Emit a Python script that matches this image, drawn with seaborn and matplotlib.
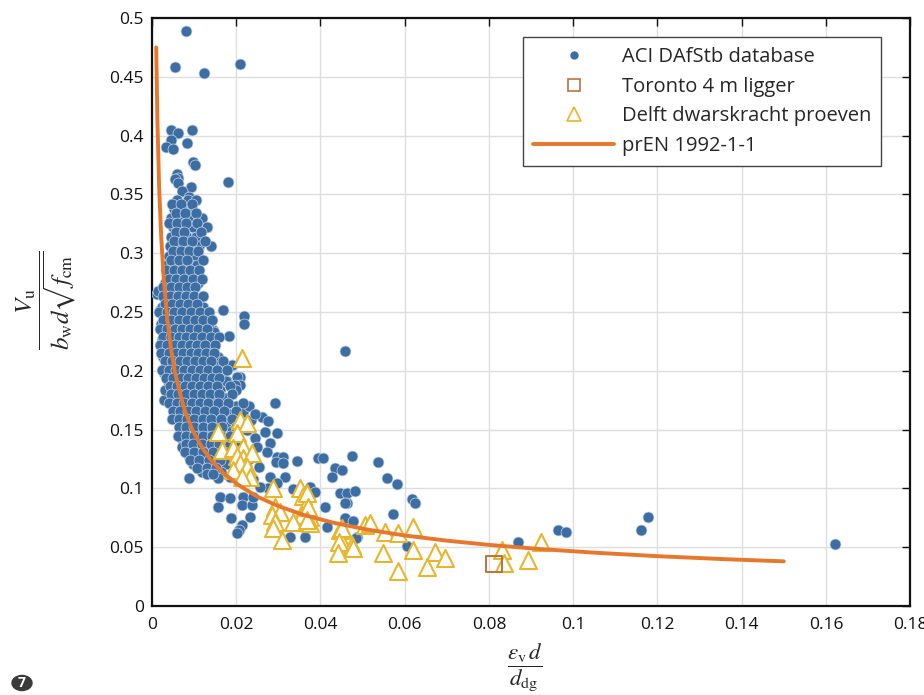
import numpy as np
import pandas as pd
import matplotlib
matplotlib.use("Agg")
import matplotlib.pyplot as plt
from matplotlib.lines import Line2D
from matplotlib.ticker import FuncFormatter, MultipleLocator
import seaborn as sns

# ---------------- data ----------------
# ACI DAfStb database: sparse / outlying points
aci_sparse_x = [0.0081, 0.0055, 0.0124, 0.0209, 0.0045, 0.0062, 0.0095, 0.0045, 0.0033, 0.0050, 0.0083,
                0.0097, 0.0102, 0.0059, 0.0062, 0.0055, 0.0062, 0.0180, 0.0093, 0.0071, 0.0088, 0.0069, 0.0093,
                0.0019, 0.0169, 0.0219, 0.0219, 0.0183, 0.0145, 0.0121, 0.0157, 0.0190, 0.0166, 0.0209, 0.0202,
                0.0178, 0.0162, 0.0209, 0.0197, 0.0292, 0.0261, 0.0275, 0.0268, 0.0297, 0.0280, 0.0273, 0.0297,
                0.0310, 0.0294, 0.0310, 0.0344, 0.0394, 0.0406, 0.0475, 0.0435, 0.0451, 0.0428, 0.0316, 0.0280,
                0.0297, 0.0275, 0.0257, 0.0162, 0.0157, 0.0185, 0.0216, 0.0214, 0.0238, 0.0240, 0.0335, 0.0375,
                0.0387, 0.0446, 0.0463, 0.0482, 0.0463, 0.0410, 0.0188, 0.0233, 0.0214, 0.0207, 0.0202, 0.0328,
                0.0363, 0.0416, 0.0458, 0.0487, 0.0458, 0.0537, 0.0558, 0.0582, 0.0458, 0.0617, 0.0625, 0.0572,
                0.0477, 0.0484, 0.0606, 0.0869, 0.0964, 0.0983, 0.1161, 0.1178, 0.1622,
                0.0215, 0.0235, 0.0225, 0.0245, 0.0200, 0.0215, 0.0250, 0.0195, 0.0230, 0.0255, 0.0215, 0.0185,
                0.0240, 0.0029, 0.0012]
aci_sparse_y = [0.489, 0.458, 0.453, 0.461, 0.405, 0.402, 0.405, 0.396, 0.390, 0.389, 0.394,
                0.378, 0.375, 0.367, 0.364, 0.363, 0.360, 0.361, 0.356, 0.353, 0.348, 0.337, 0.337,
                0.252, 0.252, 0.2465, 0.240, 0.2295, 0.235, 0.245, 0.212, 0.205, 0.2015, 0.195, 0.195,
                0.191, 0.179, 0.188, 0.188, 0.1725, 0.161, 0.157, 0.148, 0.147, 0.139, 0.131, 0.127,
                0.127, 0.1225, 0.1215, 0.123, 0.126, 0.126, 0.1275, 0.117, 0.116, 0.110, 0.110, 0.110,
                0.1045, 0.100, 0.101, 0.0927, 0.084, 0.092, 0.0927, 0.086, 0.086, 0.0927, 0.0995, 0.101,
                0.097, 0.096, 0.096, 0.0978, 0.088, 0.084, 0.075, 0.0757, 0.069, 0.0646, 0.062, 0.0587,
                0.0587, 0.067, 0.075, 0.0587, 0.2168, 0.1224, 0.1088, 0.1037, 0.0875, 0.091, 0.0875, 0.078,
                0.0722, 0.0578, 0.051, 0.0544, 0.0646, 0.063, 0.0646, 0.0757, 0.0527,
                0.165, 0.158, 0.150, 0.143, 0.140, 0.133, 0.135, 0.125, 0.125, 0.118, 0.116, 0.110,
                0.108, 0.175, 0.265]

# ACI DAfStb database: dense cluster, row by row (y level -> x positions)
aci_rows_y = [0.345, 0.338, 0.330, 0.322, 0.314, 0.306, 0.298, 0.290, 0.282, 0.275, 0.268, 0.261,
              0.254, 0.247, 0.240, 0.233, 0.226, 0.219, 0.212, 0.205, 0.198, 0.191, 0.184, 0.177,
              0.170, 0.163, 0.156, 0.149, 0.142, 0.135, 0.128, 0.121, 0.114, 0.109,
              0.342, 0.334, 0.326, 0.318, 0.310, 0.302, 0.294, 0.286, 0.278, 0.271, 0.264, 0.257,
              0.250, 0.243, 0.236, 0.229, 0.222, 0.215, 0.208, 0.201, 0.194, 0.187, 0.180, 0.173,
              0.166, 0.159, 0.152, 0.145, 0.138, 0.131, 0.124, 0.117, 0.112]
aci_rows_x = [
    [0.0060, 0.0085, 0.0105],
    [0.0052, 0.0072, 0.0095],
    [0.0046, 0.0066, 0.0086, 0.0118],
    [0.0050, 0.0071, 0.0097, 0.0130],
    [0.0044, 0.0062, 0.0083, 0.0105],
    [0.0043, 0.0069, 0.0090, 0.0112, 0.0140],
    [0.0040, 0.0058, 0.0078, 0.0100],
    [0.0036, 0.0055, 0.0073, 0.0092, 0.0106],
    [0.0042, 0.0062, 0.0082, 0.0101],
    [0.0030, 0.0050, 0.0068, 0.0088, 0.0110],
    [0.0014, 0.0040, 0.0058, 0.0077, 0.0096],
    [0.0035, 0.0052, 0.0070, 0.0090, 0.0112],
    [0.0024, 0.0044, 0.0062, 0.0081, 0.0100, 0.0121],
    [0.0030, 0.0050, 0.0069, 0.0089, 0.0108, 0.0128],
    [0.0022, 0.0040, 0.0058, 0.0077, 0.0096, 0.0115, 0.0135],
    [0.0030, 0.0048, 0.0067, 0.0086, 0.0105, 0.0124, 0.0147],
    [0.0024, 0.0040, 0.0058, 0.0076, 0.0094, 0.0113, 0.0132],
    [0.0032, 0.0050, 0.0068, 0.0086, 0.0104, 0.0122, 0.0142],
    [0.0026, 0.0043, 0.0060, 0.0078, 0.0096, 0.0115, 0.0135, 0.0157],
    [0.0035, 0.0052, 0.0070, 0.0088, 0.0107, 0.0126, 0.0148, 0.0190],
    [0.0028, 0.0045, 0.0063, 0.0081, 0.0099, 0.0118, 0.0138, 0.0166],
    [0.0038, 0.0056, 0.0074, 0.0092, 0.0110, 0.0130, 0.0150, 0.0175],
    [0.0032, 0.0049, 0.0067, 0.0085, 0.0103, 0.0122, 0.0142, 0.0162, 0.0200],
    [0.0058, 0.0076, 0.0094, 0.0113, 0.0133, 0.0153, 0.0175],
    [0.0050, 0.0068, 0.0086, 0.0105, 0.0124, 0.0145, 0.0168, 0.0200, 0.0230],
    [0.0058, 0.0077, 0.0096, 0.0115, 0.0136, 0.0158, 0.0185, 0.0245],
    [0.0068, 0.0087, 0.0106, 0.0127, 0.0149, 0.0175],
    [0.0075, 0.0096, 0.0117, 0.0139, 0.0162, 0.0190],
    [0.0071, 0.0087, 0.0108, 0.0130, 0.0152, 0.0177],
    [0.0071, 0.0098, 0.0120, 0.0143, 0.0168],
    [0.0088, 0.0110, 0.0133, 0.0158],
    [0.0097, 0.0123, 0.0148, 0.0175],
    [0.0119, 0.0140, 0.0165],
    [0.0088, 0.0157],
    [0.0048, 0.0070, 0.0096],
    [0.0058, 0.0079, 0.0104],
    [0.0040, 0.0060, 0.0080, 0.0108],
    [0.0057, 0.0077, 0.0117],
    [0.0053, 0.0073, 0.0096, 0.0125],
    [0.0049, 0.0068, 0.0088, 0.0110],
    [0.0046, 0.0064, 0.0083, 0.0120],
    [0.0033, 0.0052, 0.0071, 0.0091, 0.0112],
    [0.0040, 0.0058, 0.0077, 0.0097, 0.0118],
    [0.0027, 0.0045, 0.0063, 0.0083, 0.0103],
    [0.0025, 0.0043, 0.0061, 0.0080, 0.0100, 0.0120],
    [0.0030, 0.0048, 0.0066, 0.0085, 0.0106],
    [0.0017, 0.0035, 0.0053, 0.0072, 0.0092, 0.0113, 0.0135],
    [0.0026, 0.0044, 0.0063, 0.0082, 0.0101, 0.0121, 0.0142],
    [0.0018, 0.0036, 0.0054, 0.0072, 0.0091, 0.0110, 0.0130],
    [0.0027, 0.0045, 0.0063, 0.0081, 0.0100, 0.0119, 0.0140, 0.0160],
    [0.0019, 0.0036, 0.0054, 0.0072, 0.0090, 0.0108, 0.0127, 0.0150],
    [0.0022, 0.0040, 0.0057, 0.0074, 0.0092, 0.0110, 0.0128, 0.0147],
    [0.0030, 0.0048, 0.0066, 0.0084, 0.0102, 0.0121, 0.0141, 0.0168],
    [0.0024, 0.0040, 0.0058, 0.0076, 0.0094, 0.0113, 0.0132, 0.0154, 0.0178],
    [0.0033, 0.0050, 0.0068, 0.0086, 0.0104, 0.0123, 0.0143, 0.0160],
    [0.0042, 0.0060, 0.0078, 0.0096, 0.0115, 0.0134, 0.0155, 0.0185],
    [0.0045, 0.0062, 0.0080, 0.0099, 0.0118, 0.0138, 0.0160, 0.0190],
    [0.0040, 0.0059, 0.0077, 0.0095, 0.0114, 0.0134, 0.0156, 0.0180, 0.0215],
    [0.0050, 0.0067, 0.0086, 0.0105, 0.0125, 0.0147, 0.0170, 0.0200],
    [0.0048, 0.0064, 0.0082, 0.0100, 0.0120, 0.0141, 0.0163, 0.0190],
    [0.0064, 0.0081, 0.0100, 0.0121, 0.0143, 0.0167, 0.0200],
    [0.0062, 0.0080, 0.0100, 0.0120, 0.0142, 0.0165, 0.0185],
    [0.0080, 0.0098, 0.0118, 0.0140, 0.0160, 0.0185],
    [0.0078, 0.0100, 0.0121, 0.0145, 0.0170],
    [0.0090, 0.0112, 0.0136, 0.0162],
    [0.0108, 0.0130, 0.0152],
    [0.0130, 0.0145],
]

# Toronto 4 m ligger
toronto_x = [0.0812]
toronto_y = [0.0357]

# Delft dwarskracht proeven
delft_x = [0.0157, 0.0209, 0.0226, 0.0202, 0.0166, 0.0192, 0.0216, 0.0202, 0.0216, 0.0238, 0.0209,
           0.0226, 0.0192, 0.0233, 0.0214, 0.0214, 0.0287, 0.0351, 0.0359, 0.0292, 0.0304, 0.0285,
           0.0363, 0.0356, 0.0375, 0.0292, 0.0335, 0.0287, 0.0375, 0.0309, 0.0446, 0.0451, 0.0475,
           0.0368, 0.0370, 0.0368, 0.0451, 0.0506, 0.0518, 0.0444, 0.0477, 0.0442, 0.0553, 0.0584,
           0.0620, 0.0549, 0.0620, 0.0672, 0.0696, 0.0653, 0.0584, 0.0831, 0.0836, 0.0893, 0.0924]
delft_y = [0.148, 0.158, 0.156, 0.147, 0.1326, 0.134, 0.135, 0.128, 0.126, 0.130, 0.1215,
           0.118, 0.1156, 0.1097, 0.1097, 0.211, 0.1003, 0.1003, 0.094, 0.084, 0.080, 0.077,
           0.084, 0.077, 0.0757, 0.0714, 0.0714, 0.066, 0.0706, 0.056, 0.0646, 0.0544, 0.0519,
           0.096, 0.0840, 0.073, 0.0663, 0.0689, 0.0706, 0.0544, 0.049, 0.045, 0.0629, 0.062,
           0.067, 0.045, 0.0476, 0.0459, 0.0408, 0.0332, 0.0298, 0.0476, 0.0365, 0.039, 0.0544]

# prEN 1992-1-1 curve
pren_x = [0.0010, 0.0013, 0.0017, 0.0022, 0.0028, 0.0036, 0.0045, 0.0055, 0.0067, 0.0080, 0.0097,
          0.0117, 0.0140, 0.0170, 0.0205, 0.0250, 0.0300, 0.0360, 0.0430, 0.0510, 0.0600, 0.0700,
          0.0800, 0.0920, 0.1050, 0.1200, 0.1350, 0.1500]
pren_y = [0.475, 0.410, 0.356, 0.313, 0.278, 0.245, 0.219, 0.198, 0.180, 0.164, 0.149,
          0.136, 0.124, 0.113, 0.103, 0.093, 0.085, 0.0775, 0.0709, 0.0651, 0.0600, 0.0556,
          0.0520, 0.0485, 0.0454, 0.0424, 0.0400, 0.0380]

legend_labels = ["ACI DAfStb database", "Toronto 4 m ligger", "Delft dwarskracht proeven", "prEN 1992-1-1"]

# ---------------- build tables ----------------
dense_x, dense_y = [], []
for yy, xs in zip(aci_rows_y, aci_rows_x):
    for xx in xs:
        dense_x.append(xx)
        dense_y.append(yy)
aci = pd.DataFrame({"x": aci_sparse_x + dense_x, "y": aci_sparse_y + dense_y})
delft = pd.DataFrame({"x": delft_x, "y": delft_y})
toronto = pd.DataFrame({"x": toronto_x, "y": toronto_y})
pren = pd.DataFrame({"x": pren_x, "y": pren_y})

# ---------------- style ----------------
sns.set_style("whitegrid")
plt.rcParams["font.family"] = ["Open Sans", "DejaVu Sans"]
plt.rcParams["mathtext.fontset"] = "stix"

BLUE = "#3c6ea3"
GOLD = "#e8b62c"
BROWN = "#c0703c"
ORANGE = "#e6772c"

fig = plt.figure(figsize=(9.24, 6.95), dpi=100)
ax = fig.add_axes([0.1645, 0.128, 0.8205, 0.846])

sns.scatterplot(data=aci, x="x", y="y", ax=ax, s=62, color=BLUE, edgecolor="#c9d6e6",
                linewidth=0.5, zorder=3, legend=False)
sns.scatterplot(data=delft, x="x", y="y", ax=ax, s=150, marker="^", facecolor="white",
                edgecolor=GOLD, linewidth=1.5, zorder=4, legend=False)
sns.scatterplot(data=toronto, x="x", y="y", ax=ax, s=140, marker="s", facecolor="none",
                edgecolor=BROWN, linewidth=1.4, zorder=5, legend=False)
sns.lineplot(data=pren, x="x", y="y", ax=ax, color=ORANGE, linewidth=2.8, sort=False,
             estimator=None, zorder=6, legend=False)

ax.set_xlim(0, 0.18)
ax.set_ylim(0, 0.5)
ax.xaxis.set_major_locator(MultipleLocator(0.02))
ax.yaxis.set_major_locator(MultipleLocator(0.05))
fmt = FuncFormatter(lambda v, p: "%g" % round(v, 4))
ax.xaxis.set_major_formatter(fmt)
ax.yaxis.set_major_formatter(fmt)
ax.grid(True, color="#dedede", linewidth=1.0)
ax.set_axisbelow(True)
for sp in ax.spines.values():
    sp.set_visible(True)
    sp.set_color("#111111")
    sp.set_linewidth(1.6)
ax.tick_params(direction="in", length=6, width=1.0, top=True, right=True,
               labelsize=12.5, colors="#111111", pad=6)
ax.tick_params(axis="x", pad=8)

ax.set_xlabel(r"$\dfrac{\varepsilon_\mathrm{v}\, d}{d_\mathrm{dg}}$", fontsize=16.5)
ax.set_ylabel(r"$\dfrac{V_\mathrm{u}}{b_\mathrm{w} d\sqrt{f_\mathrm{cm}}}$", fontsize=18)
ax.xaxis.set_label_coords(0.492, -0.060)
ax.yaxis.set_label_coords(-0.098, 0.52)

handles = [
    Line2D([], [], marker="o", linestyle="none", markersize=5, color=BLUE, markeredgecolor=BLUE),
    Line2D([], [], marker="s", linestyle="none", markersize=9, markerfacecolor="none",
           markeredgecolor=BROWN, markeredgewidth=1.2),
    Line2D([], [], marker="^", linestyle="none", markersize=10, markerfacecolor="none",
           markeredgecolor=GOLD, markeredgewidth=1.2),
    Line2D([], [], color=ORANGE, linewidth=2.8),
]
leg = ax.legend(handles, legend_labels, loc="upper right", bbox_to_anchor=(0.962, 0.968),
                fontsize=14.5, frameon=True, fancybox=False, framealpha=1, edgecolor="#444444",
                handlelength=4.0, handletextpad=0.4, borderpad=0.5, labelspacing=0.48,
                borderaxespad=0)
leg.get_frame().set_linewidth(1.0)

# page badge
fig.patches.append(matplotlib.patches.Circle((22 / 924, 1 - 683 / 695), 10 / 924,
                                             transform=fig.transFigure, color="#3a3a3a"))
fig.text(22 / 924, 1 - 683 / 695, "7", color="white", fontsize=10, fontweight="bold",
         ha="center", va="center")

fig.savefig("out.png", dpi=100)
